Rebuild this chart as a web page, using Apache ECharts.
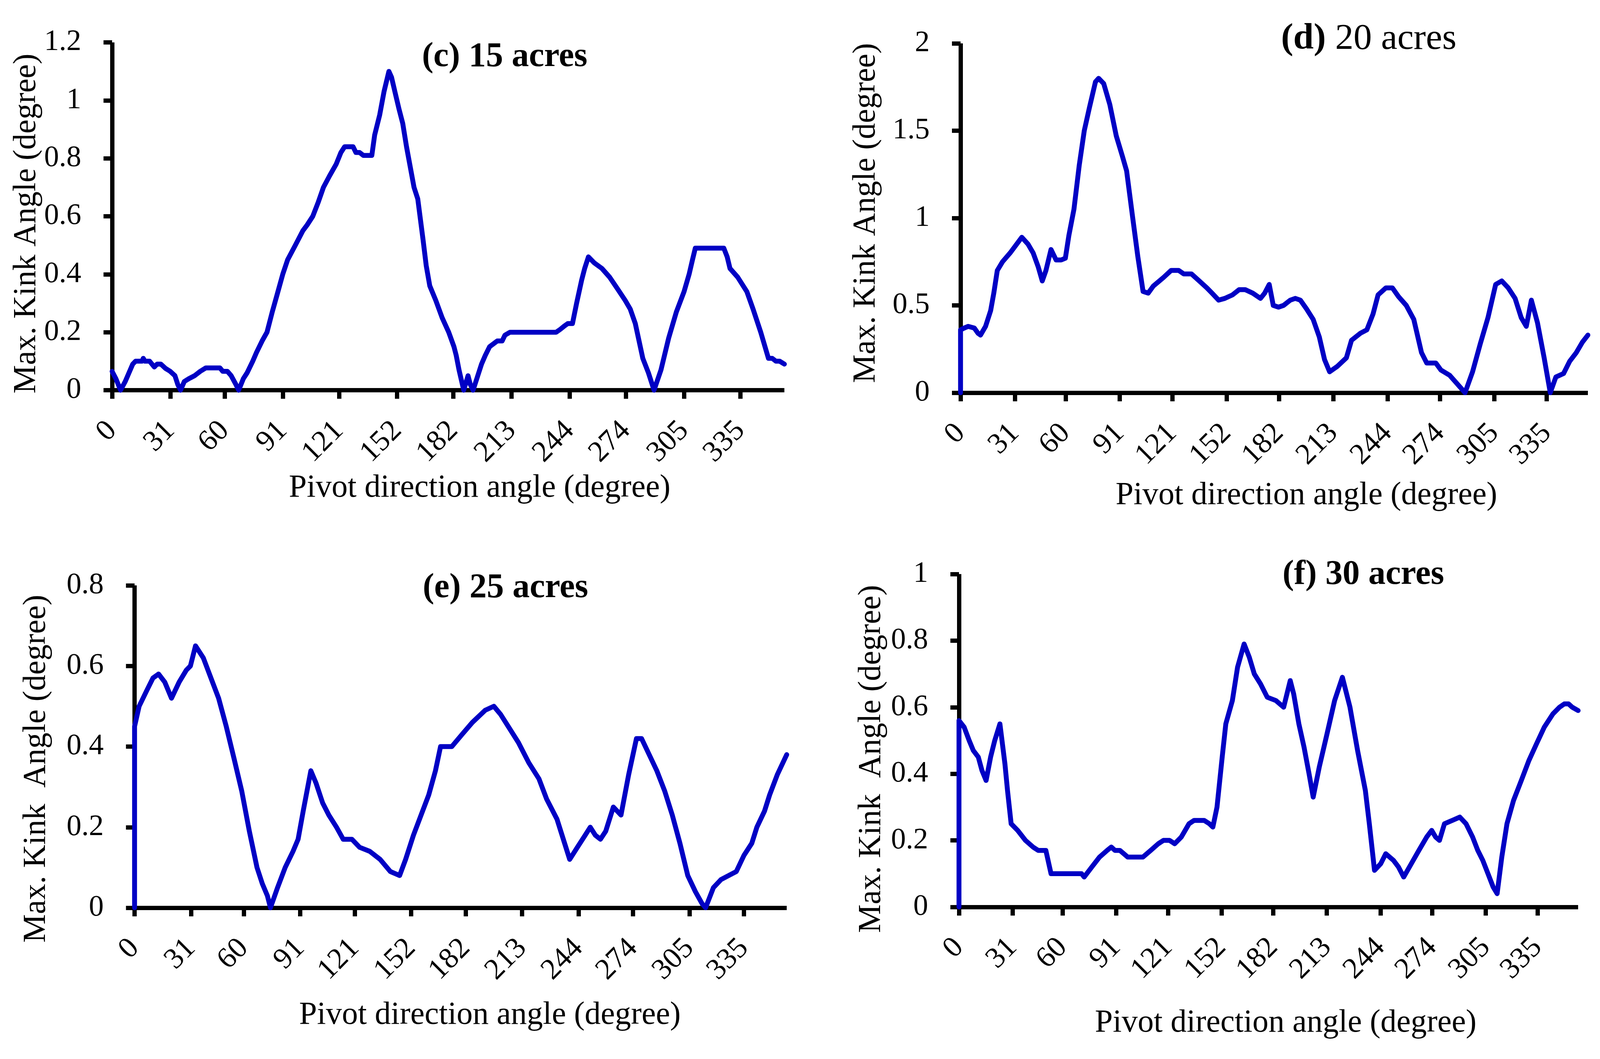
<!DOCTYPE html>
<html>
<head>
<meta charset="utf-8">
<script src="https://cdn.jsdelivr.net/npm/echarts@6/dist/echarts.min.js"></script>
<style>
html,body{margin:0;padding:0;background:#fff;}
#chart{width:4117px;height:2710px;}
</style>
</head>
<body>
<div id="chart"></div>
<script>
// ---- tick labels ----
const monthTicks = [0, 31, 60, 91, 121, 152, 182, 213, 244, 274, 305, 335];
const xMax = 358.5;

// ---- panel (c) 15 acres ----
const angleC = [0,2,4.5,7,9,11,12.5,16,16.6,17.5,20,22.5,24,26,28.5,31,33.5,35,36.5,38.5,41,44,47,50,57.5,59,61.5,63.5,66,67.5,70,72,75,77,80,82.6,85.4,88,91,93.6,97.7,101.7,104,107,110,112.7,116,119.5,122,124,128.5,130,132,134,138.5,140,142.7,145,147.6,149,150.8,153,155,157,159,161,163,165.8,167.5,169.4,172.6,176,179.5,182.3,183.5,185,187.5,189.8,191,192.5,195,197,199,201.3,205.4,208,209.5,212.2,236.8,239,240.9,243,245.5,247.7,250.4,252,254,257,261.2,265.3,269.5,273.6,276.3,279,281,283,286,289,292.7,296.8,300.9,305,307.7,309.5,311,326.2,328,329.5,333.6,338.5,341.8,345.9,350,352,354,356,358.5];
const kinkC = [0.065,0.04,0,0.03,0.06,0.09,0.1,0.1,0.11,0.1,0.1,0.08,0.09,0.09,0.075,0.065,0.05,0.02,0,0.03,0.04,0.05,0.065,0.077,0.077,0.065,0.065,0.05,0.02,0,0.04,0.06,0.1,0.13,0.17,0.2,0.27,0.33,0.4,0.45,0.5,0.55,0.57,0.6,0.65,0.7,0.74,0.78,0.82,0.84,0.84,0.82,0.82,0.81,0.81,0.88,0.95,1.03,1.1,1.08,1.03,0.97,0.92,0.84,0.77,0.7,0.66,0.52,0.43,0.36,0.31,0.25,0.2,0.15,0.12,0.07,0,0.05,0.02,0,0.05,0.09,0.12,0.15,0.17,0.17,0.19,0.2,0.2,0.21,0.22,0.23,0.23,0.3,0.38,0.42,0.46,0.44,0.42,0.39,0.35,0.31,0.28,0.23,0.17,0.11,0.06,0,0.07,0.18,0.27,0.34,0.4,0.45,0.49,0.49,0.46,0.42,0.39,0.34,0.28,0.2,0.11,0.11,0.1,0.1,0.09];

// ---- panel (d) 20 acres ----
const angleD = [0,0,2,4.4,7.9,10,11.4,14.3,17.2,19,21,24,28.3,31.3,35,38.6,41.5,44.4,46.7,48.8,51.7,54.6,57.5,59.9,61.9,64.8,67.8,70.7,73.6,77.1,78.9,81.8,85.3,89,92.6,94.9,98.4,101.3,104.3,107.2,110.1,116,120.3,124.7,127.6,132,136.4,140.8,143.7,147.5,151,155.4,159.2,162.7,167,171.4,173.8,176.4,178.7,181.7,184.6,188.4,191.3,194.2,197.7,201.5,205,208,210.9,215.2,220.5,223.4,228.4,232.2,235.7,238.6,243,246.8,250.3,254.7,259,263.4,266.4,271.6,274.5,279.5,283.9,288.3,292.6,297,301.4,305.8,309.3,313,316.9,320.4,323.3,326.2,329.7,333.5,337,340.2,344.6,348.1,351.9,355.4,358.5];
const kinkD = [0,0.36,0.37,0.38,0.37,0.34,0.33,0.38,0.47,0.57,0.7,0.75,0.8,0.84,0.89,0.85,0.8,0.72,0.64,0.7,0.82,0.76,0.76,0.77,0.9,1.05,1.3,1.5,1.63,1.78,1.8,1.77,1.65,1.47,1.35,1.27,1,0.78,0.58,0.57,0.61,0.66,0.7,0.7,0.68,0.68,0.64,0.6,0.57,0.53,0.54,0.56,0.59,0.59,0.57,0.54,0.57,0.62,0.5,0.49,0.5,0.53,0.54,0.53,0.48,0.42,0.32,0.19,0.12,0.15,0.2,0.3,0.34,0.36,0.45,0.56,0.6,0.6,0.55,0.5,0.42,0.23,0.17,0.17,0.13,0.1,0.05,0,0.12,0.28,0.43,0.62,0.64,0.6,0.54,0.43,0.38,0.53,0.4,0.2,0,0.09,0.11,0.18,0.23,0.29,0.33];

// ---- panel (e) 25 acres ----
const angleE = [0,0,2.5,6.8,10.1,13.2,16.6,20.3,24.5,28.5,30.7,33.5,37.8,42,46.2,50.4,54.7,58.9,63.1,67.3,70.2,73,74.7,78.6,82.8,87.1,89.9,92.7,96.9,99.7,103.4,106.8,111,114.7,119.5,123.7,129.3,135,140.6,145.7,149,153.3,157.5,161.7,165.4,168.2,174.4,180,185.7,192.7,197.5,201.2,205.4,211,216.7,222.3,226.5,232.2,236.4,239.2,243.4,247.7,250.5,253.3,256.1,259,263.2,267.4,271.6,275.9,278.7,282.9,287.1,291.4,295.6,299.8,304.1,308.3,312,313.9,318.2,322.4,326.6,330.8,335,339.3,342.1,346.3,349.1,353.3,358.5];
const kinkE = [0,0.45,0.5,0.54,0.57,0.58,0.56,0.52,0.56,0.59,0.6,0.65,0.62,0.57,0.52,0.45,0.37,0.29,0.19,0.1,0.06,0.03,0,0.05,0.1,0.14,0.17,0.24,0.34,0.31,0.26,0.23,0.2,0.17,0.17,0.15,0.14,0.12,0.09,0.08,0.12,0.18,0.23,0.28,0.34,0.4,0.4,0.43,0.46,0.49,0.5,0.48,0.45,0.41,0.36,0.32,0.27,0.22,0.16,0.12,0.15,0.18,0.2,0.18,0.17,0.19,0.25,0.23,0.33,0.42,0.42,0.38,0.34,0.29,0.23,0.16,0.08,0.04,0.01,0,0.05,0.07,0.08,0.09,0.13,0.16,0.2,0.24,0.28,0.33,0.38];

// ---- panel (f) 30 acres ----
const angleF = [0,0,3,5.9,8.3,11.2,13.3,15.7,18.3,20.7,23.7,26.6,28.1,30.2,34,38.5,42.9,45.9,50.3,53.3,71,72.5,76.9,81.4,85.8,88.2,90.3,93.2,97.7,106.5,111,115.4,118.4,121.9,124.9,128.7,133.2,136.1,142,145,147,149.4,152.4,154.5,158.3,161.3,165.1,168.1,171,174.6,178.5,183.5,188,191.8,193.8,196.8,199.8,202.7,205.1,208.6,213.1,217.5,222,226.4,230.8,235.3,237.6,240.6,244.2,247.1,251.6,254.5,257.5,261.9,266.3,270.8,273.7,276,278.2,281.1,285.6,290,293.6,297.4,300.4,303.3,306.3,309.3,311.6,314.3,317.3,321.1,325.6,330,334.4,338.9,343.9,347.7,350.5,353,355.1,358.5];
const kinkF = [0,0.56,0.54,0.5,0.47,0.45,0.41,0.38,0.45,0.5,0.55,0.43,0.35,0.25,0.23,0.2,0.18,0.17,0.17,0.1,0.1,0.09,0.12,0.15,0.17,0.18,0.17,0.17,0.15,0.15,0.17,0.19,0.2,0.2,0.19,0.21,0.25,0.26,0.26,0.25,0.24,0.3,0.45,0.55,0.62,0.72,0.79,0.75,0.7,0.67,0.63,0.62,0.6,0.68,0.64,0.55,0.48,0.4,0.33,0.42,0.52,0.62,0.69,0.6,0.47,0.35,0.25,0.11,0.13,0.16,0.14,0.12,0.09,0.13,0.17,0.21,0.23,0.21,0.2,0.25,0.26,0.27,0.25,0.21,0.17,0.14,0.1,0.06,0.04,0.15,0.25,0.32,0.38,0.44,0.49,0.54,0.58,0.6,0.61,0.61,0.6,0.59];

const xTitle = 'Pivot direction angle (degree)';
const yTitles = ['Max. Kink Angle (degree)', 'Max. Kink Angle (degree)', 'Max. Kink  Angle (degree)', 'Max. Kink  Angle (degree)'];
const yMax = [1.2, 2, 0.8, 1];
const yStep = [0.2, 0.5, 0.2, 0.2];

// ---- layout (not data) ----
const FONT = '"Liberation Serif", "Times New Roman", serif';
const LINE_COLOR = '#0000C4';
const grids = [
  {left: 287, top: 108.5, width: 1721, height: 890},
  {left: 2459, top: 111, width: 1606, height: 894},
  {left: 344.5, top: 1498, width: 1669.5, height: 825},
  {left: 2455, top: 1469, width: 1585, height: 852}
];
const xNameGap = [210, 222, 234, 256];
const xNamePad = [161, 165, 150, 88];
const yNameGap = [156, 201, 210, 183];
const yNamePad = [[0, 37, 0, 0], [0, 0, 0, 26], [0, 113, 0, 0], [0, 94, 0, 0]];

const pairs = (xs, ys) => xs.map((x, i) => [x, ys[i]]);
const seriesData = [pairs(angleC, kinkC), pairs(angleD, kinkD), pairs(angleE, kinkE), pairs(angleF, kinkF)];

const axisLineStyle = {color: '#000', width: 11, cap: 'butt'};

const option = {
  animation: false,
  backgroundColor: '#fff',
  title: [
    {text: '(c) 15 acres', left: 1292, top: 146, textAlign: 'center', textVerticalAlign: 'middle', padding: 0,
     textStyle: {fontFamily: FONT, fontSize: 88, fontWeight: 'bold', color: '#000'}},
    {text: '{b|(d)} 20 acres', left: 3504, top: 100, textAlign: 'center', textVerticalAlign: 'middle', padding: 0,
     textStyle: {fontFamily: FONT, fontSize: 94, fontWeight: 'normal', color: '#000',
       rich: {b: {fontFamily: FONT, fontSize: 94, fontWeight: 'bold', color: '#000'}}}},
    {text: '(e) 25 acres', left: 1294, top: 1505, textAlign: 'center', textVerticalAlign: 'middle', padding: 0,
     textStyle: {fontFamily: FONT, fontSize: 88, fontWeight: 'bold', color: '#000'}},
    {text: '(f) 30 acres', left: 3490, top: 1471, textAlign: 'center', textVerticalAlign: 'middle', padding: 0,
     textStyle: {fontFamily: FONT, fontSize: 88, fontWeight: 'bold', color: '#000'}}
  ],
  grid: grids.map(g => Object.assign({containLabel: false}, g)),
  xAxis: grids.map((g, i) => ({
    type: 'value', gridIndex: i, min: 0, max: xMax,
    axisLine: {show: true, onZero: false, lineStyle: axisLineStyle},
    axisTick: {show: true, customValues: monthTicks, length: 22, lineStyle: {color: '#000', width: 11}},
    axisLabel: {show: true, customValues: monthTicks, rotate: 45, margin: 92, fontFamily: FONT, fontSize: 76, color: '#000'},
    splitLine: {show: false},
    name: xTitle, nameLocation: 'middle', nameGap: xNameGap[i],
    nameTextStyle: {fontFamily: FONT, fontSize: 82, color: '#000', padding: [0, 0, 0, xNamePad[i]]}
  })),
  yAxis: grids.map((g, i) => ({
    type: 'value', gridIndex: i, min: 0, max: yMax[i], interval: yStep[i],
    axisLine: {show: true, onZero: false, lineStyle: axisLineStyle},
    axisTick: {show: true, length: 22, lineStyle: {color: '#000', width: 11}},
    axisLabel: {show: true, margin: 79, fontFamily: FONT, fontSize: 76, color: '#000'},
    splitLine: {show: false},
    name: yTitles[i], nameLocation: 'middle', nameGap: yNameGap[i],
    nameTextStyle: {fontFamily: FONT, fontSize: 82, color: '#000', padding: yNamePad[i]}
  })),
  series: seriesData.map((d, i) => ({
    type: 'line', xAxisIndex: i, yAxisIndex: i, data: d,
    showSymbol: false, symbol: 'none', smooth: false, clip: false,
    lineStyle: {color: LINE_COLOR, width: 12.5, cap: 'round', join: 'round'},
    z: 3
  }))
};

const chart = echarts.init(document.getElementById('chart'), null, {renderer: 'canvas', width: 4117, height: 2710});
chart.setOption(option);
</script>
</body>
</html>
